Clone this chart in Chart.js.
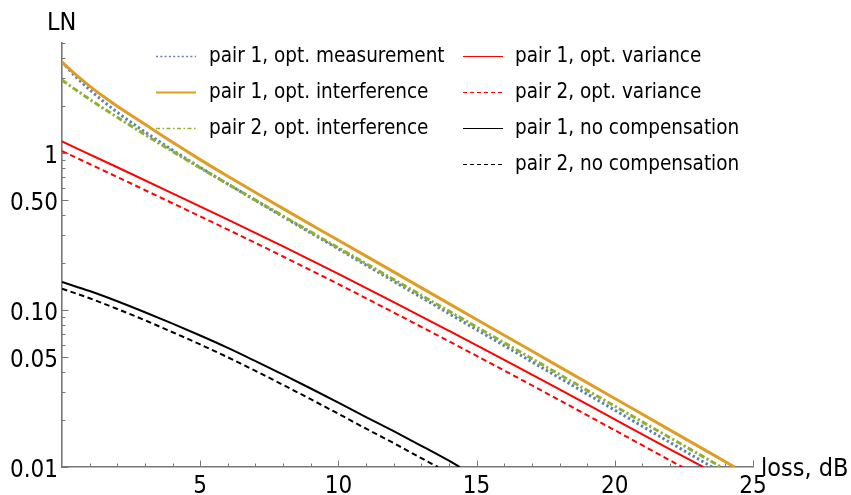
<!DOCTYPE html>
<html><head><meta charset="utf-8">
<script src="https://cdn.jsdelivr.net/npm/chart.js@4.4.1/dist/chart.umd.min.js"></script>
<style>html,body{margin:0;padding:0;background:#fff}#wrap{width:851px;height:495px}</style>
</head><body><div id="wrap"><canvas id="c" width="851" height="495"></canvas></div>
<script>
// ---- data ----
const seriesNames = [
  'pair 1, opt. measurement',
  'pair 1, opt. interference',
  'pair 2, opt. interference',
  'pair 1, opt. variance',
  'pair 2, opt. variance',
  'pair 1, no compensation',
  'pair 2, no compensation'
];
const lossMeasP1 = [0,0.5,1,1.5,2,3,4,5,6,7,8,10,12,14,16,18,20,22,23.52];
const lnMeasP1   = [3.776,3.051,2.523,2.123,1.811,1.358,1.040,0.807,0.6324,0.4977,0.3917,0.2443,0.1521,0.0948,0.0592,0.0369,0.0230,0.01432,0.01];
const lossIntP1  = [0,0.5,1,1.5,2,3,4,5,6,7,8,10,12,14,16,18,20,22,24.33];
const lnIntP1    = [3.776,3.141,2.658,2.280,1.980,1.519,1.166,0.9047,0.7086,0.5592,0.4411,0.2773,0.1746,0.1096,0.0690,0.0434,0.0273,0.01718,0.01];
const lossIntP2  = [0,0.5,1,1.5,2,3,4,5,6,7,8,10,12,14,16,18,20,22,23.85];
const lnIntP2    = [2.904,2.515,2.190,1.917,1.683,1.306,1.021,0.8017,0.6324,0.5000,0.3954,0.2483,0.1563,0.0982,0.0618,0.0388,0.0244,0.01535,0.01];
const lossVarP1  = [0,2,4,6,8,10,12,14,16,18,20,22,23.2];
const lnVarP1    = [1.180,0.809,0.552,0.3758,0.2541,0.1698,0.1122,0.0736,0.0481,0.0312,0.0201,0.01297,0.01];
const lossVarP2  = [0,2,4,6,8,10,12,14,16,18,20,22,22.44];
const lnVarP2    = [1.026,0.7015,0.4775,0.3243,0.2188,0.1459,0.0962,0.0631,0.0411,0.0266,0.01714,0.01101,0.01];
const lossNoP1   = [0,1,2,3,4,5,6,7,8,9,10,11,12,13,14,14.39];
const lnNoP1     = [0.1507,0.1318,0.1135,0.0966,0.0817,0.0687,0.0573,0.0472,0.0387,0.0316,0.0257,0.0208,0.0169,0.01365,0.01096,0.01];
const lossNoP2   = [0,1,2,3,4,5,6,7,8,9,10,11,12,13,13.6];
const lnNoP2     = [0.1365,0.1186,0.1014,0.0859,0.0721,0.0603,0.0499,0.0409,0.0333,0.0270,0.0218,0.01754,0.01419,0.01138,0.01];

const xTickValues = [1,2,3,4,5,6,7,8,9,10,11,12,13,14,15,16,17,18,19,20,21,22,23,24,25];
const xTickLabels = {5:'5',10:'10',15:'15',20:'20',25:'25'};
const yTickValues = [0.01,0.02,0.03,0.04,0.05,0.06,0.07,0.08,0.09,0.1,0.2,0.3,0.4,0.5,0.6,0.7,0.8,0.9,1,2,3,4,5];
const yTickLabels = {'0.01':'0.01','0.05':'0.05','0.1':'0.10','0.5':'0.50','1':'1'};
const xTitle = 'loss, dB';
const yTitle = 'LN';

// ---- styling ----
const FONT = '"DejaVu Sans Condensed", "DejaVu Sans", sans-serif';
const AXIS = '#777777';
const styles = [
  {c:'#5E81B5', w:3, d:[2.4,2.6], lw:1.6, ld:[2,2.3]},
  {c:'#E19C24', w:3, d:[], lw:2.2, ld:[]},
  {c:'#8FB032', w:3, d:[6,2.5,2.2,2.5], lw:1.6, ld:[4,2.5,1.5,2.5]},
  {c:'#FF0000', w:2, d:[], lw:1.1, ld:[]},
  {c:'#FF0000', w:2, d:[5.5,3.5], lw:1.1, ld:[4,3]},
  {c:'#000000', w:2, d:[], lw:1.1, ld:[]},
  {c:'#000000', w:2, d:[5.5,3.5], lw:1.1, ld:[4,3]}
];
const xs = [lossMeasP1,lossIntP1,lossIntP2,lossVarP1,lossVarP2,lossNoP1,lossNoP2];
const ys = [lnMeasP1,lnIntP1,lnIntP2,lnVarP1,lnVarP2,lnNoP1,lnNoP2];

const datasets = seriesNames.map((name,i)=>({
  label:name,
  data: xs[i].map((x,k)=>({x:x,y:ys[i][k]})),
  borderColor: styles[i].c,
  borderWidth: styles[i].w,
  borderDash: styles[i].d,
  borderCapStyle:'butt',
  pointRadius:0,
  fill:false,
  cubicInterpolationMode:'monotone',
  order: 10 - i
}));

const decorPlugin = {
  id:'decor',
  afterDatasetsDraw(chart){
    const ctx = chart.ctx, a = chart.chartArea, sx = chart.scales.x, sy = chart.scales.y;
    ctx.save();
    ctx.strokeStyle = AXIS; ctx.lineWidth = 1;
    xTickValues.forEach(v=>{
      const px = Math.round(sx.getPixelForValue(v))+0.5;
      const len = xTickLabels[v] ? 6.5 : 3.5;
      ctx.beginPath(); ctx.moveTo(px,a.bottom); ctx.lineTo(px,a.bottom-len); ctx.stroke();
    });
    yTickValues.forEach(v=>{
      const py = Math.round(sy.getPixelForValue(v))+0.5;
      const len = yTickLabels[String(v)] ? 6.5 : 3.5;
      ctx.beginPath(); ctx.moveTo(a.left,py); ctx.lineTo(a.left+len,py); ctx.stroke();
    });
    // axis titles
    ctx.fillStyle = '#000';
    ctx.font = '25px ' + FONT;
    ctx.textBaseline = 'middle';
    ctx.textAlign = 'left';
    ctx.fillText(yTitle, a.left - 15, a.top - 20);
    ctx.fillText(xTitle, a.right + 8, a.bottom + 2);
    // legend
    ctx.font = '20.5px ' + FONT;
    const cols = [{x0:156,x1:196,tx:209,items:[0,1,2]},{x0:463,x1:503,tx:515,items:[3,4,5,6]}];
    const rowY = [56.5,92.5,128.5,164.5];
    cols.forEach(col=>{
      col.items.forEach((idx,r)=>{
        const st = styles[idx];
        ctx.strokeStyle = st.c; ctx.lineWidth = st.lw; ctx.setLineDash(st.ld);
        ctx.beginPath(); ctx.moveTo(col.x0,rowY[r]); ctx.lineTo(col.x1,rowY[r]); ctx.stroke();
        ctx.setLineDash([]);
        ctx.fillStyle = '#000';
        ctx.fillText(seriesNames[idx], col.tx, rowY[r]);
      });
    });
    ctx.restore();
  }
};

new Chart(document.getElementById('c'), {
  type:'line',
  data:{datasets},
  plugins:[decorPlugin],
  options:{
    responsive:false, animation:false, devicePixelRatio:1,
    layout:{padding:{left:0, top:43, right:98, bottom:0}},
    plugins:{legend:{display:false}, tooltip:{enabled:false}},
    scales:{
      x:{
        type:'linear', min:0, max:25,
        afterBuildTicks:(s)=>{ s.ticks = xTickValues.map(v=>({value:v})); },
        afterFit:(s)=>{ s.height = 28; },
        grid:{display:false, drawTicks:false},
        border:{display:true, color:AXIS, width:1.6},
        ticks:{autoSkip:false, maxRotation:0, padding:5, color:'#000',
          font:{family:FONT, size:24},
          callback:(v)=> xTickLabels[v] || ''}
      },
      y:{
        type:'logarithmic', min:0.01, max:5,
        afterBuildTicks:(s)=>{ s.ticks = yTickValues.map(v=>({value:v})); },
        afterFit:(s)=>{ s.width = 62; },
        grid:{display:false, drawTicks:false},
        border:{display:true, color:AXIS, width:1.6},
        ticks:{autoSkip:false, padding:4, labelOffset:4, color:'#000',
          font:{family:FONT, size:24},
          callback:(v)=> yTickLabels[String(v)] || ''}
      }
    }
  }
});
</script></body></html>
